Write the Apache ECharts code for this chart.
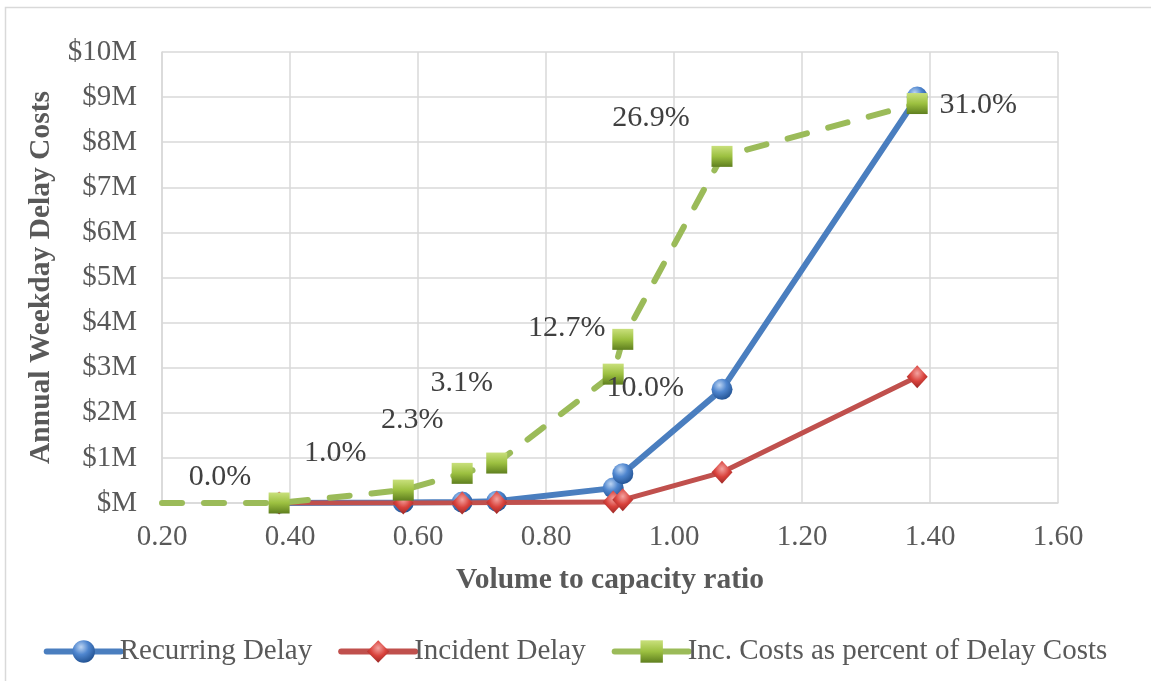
<!DOCTYPE html>
<html>
<head>
<meta charset="utf-8">
<script src="https://cdn.jsdelivr.net/npm/echarts@6/dist/echarts.min.js"></script>
<style>
  html, body { margin: 0; padding: 0; background: #ffffff; }
  #chart { width: 1151px; height: 681px; }
</style>
</head>
<body>
<div id="chart"></div>
<script>
// Volume-to-capacity ratio of each studied segment
const vcRatio = [0.383, 0.577, 0.669, 0.723, 0.905, 0.920, 1.075, 1.380];
// Annual weekday delay costs, $ millions
const recurringDelay = [0.00, 0.01, 0.02, 0.04, 0.33, 0.65, 2.52, 9.00];
const incidentDelay  = [0.00, 0.00, 0.00, 0.01, 0.02, 0.07, 0.68, 2.80];
// Incident costs as percent of total delay costs
const incPercent = [0.0, 1.0, 2.3, 3.1, 10.0, 12.7, 26.9, 31.0];
// The percent line starts at the left edge of the axis
const incLeadIn = { x: 0.20, pct: 0.0 };
// Percent points are plotted on the $M axis: 3.5 % per $1M
const PCT_PER_MILLION = 3.5;
// Label offsets for each percent point (dx, dy in px from the marker)
const pctLabelOffsets = [[-59, -26], [-68, -37], [-50, -53], [-35, -80], [32, 14], [-56, -11], [-71, -38], [61, 2]];

const xTicks = { min: 0.2, max: 1.6, step: 0.2 };
const yTicks = { min: 0, max: 10, step: 1 };

const FONT = '"Liberation Serif", "Times New Roman", serif';
const TEXT = '#595959';
const BLUE = '#4a7ebf';
const RED = '#c0504d';
const GREEN = '#9bbb59';

const blueBall = {
  type: 'radial', x: 0.38, y: 0.3, r: 0.75,
  colorStops: [{ offset: 0, color: '#bcd4f2' }, { offset: 0.45, color: '#4f86cf' }, { offset: 1, color: '#1f4f8f' }]
};
const redGem = {
  type: 'radial', x: 0.5, y: 0.35, r: 0.7,
  colorStops: [{ offset: 0, color: '#f3a3a0' }, { offset: 0.5, color: '#d9423c' }, { offset: 1, color: '#8f2321' }]
};
const greenTile = {
  type: 'linear', x: 0, y: 0, x2: 0, y2: 1,
  colorStops: [{ offset: 0, color: '#c9e07c' }, { offset: 0.5, color: '#9cc040' }, { offset: 1, color: '#5f7f1f' }]
};

const recurringData = vcRatio.map((x, i) => [x, recurringDelay[i]]);
const incidentData = vcRatio.map((x, i) => [x, incidentDelay[i]]);
const incData = [{ value: [incLeadIn.x, incLeadIn.pct / PCT_PER_MILLION], symbol: 'none', label: { show: false } }]
  .concat(vcRatio.map((x, i) => ({
    value: [x, incPercent[i] / PCT_PER_MILLION],
    label: {
      show: true,
      formatter: incPercent[i].toFixed(1) + '%',
      offset: pctLabelOffsets[i]
    }
  })));

const chart = echarts.init(document.getElementById('chart'), null, { renderer: 'canvas' });
chart.setOption({
  animation: false,
  backgroundColor: '#ffffff',
  textStyle: { fontFamily: FONT },
  graphic: [{
    type: 'rect',
    shape: { x: 5.5, y: 7.5, width: 1150, height: 680 },
    style: { fill: 'none', stroke: '#d9d9d9', lineWidth: 1.5 },
    silent: true,
    z: -10
  }],
  grid: { left: 162, right: 93, top: 52, bottom: 178, containLabel: false },
  xAxis: {
    type: 'value',
    min: xTicks.min, max: xTicks.max, interval: xTicks.step,
    name: 'Volume to capacity ratio',
    nameLocation: 'middle', nameGap: 62,
    nameTextStyle: { fontFamily: FONT, fontSize: 29.5, fontWeight: 'bold', color: TEXT },
    axisLine: { show: true, lineStyle: { color: '#d9d9d9', width: 1.5 } },
    axisTick: { show: false },
    axisLabel: { fontFamily: FONT, fontSize: 29, color: TEXT, margin: 20, formatter: v => v.toFixed(2) },
    splitLine: { show: true, lineStyle: { color: '#d9d9d9', width: 1.5 } }
  },
  yAxis: {
    type: 'value',
    min: yTicks.min, max: yTicks.max, interval: yTicks.step,
    name: 'Annual Weekday Delay Costs',
    nameLocation: 'middle', nameGap: 103, nameRotate: 90,
    nameTextStyle: { fontFamily: FONT, fontSize: 29.5, fontWeight: 'bold', color: TEXT },
    axisLine: { show: true, lineStyle: { color: '#d9d9d9', width: 1.5 } },
    axisTick: { show: false },
    axisLabel: { fontFamily: FONT, fontSize: 29, color: TEXT, margin: 25, formatter: v => v === 0 ? '$M' : '$' + v + 'M' },
    splitLine: { show: true, lineStyle: { color: '#d9d9d9', width: 1.5 } }
  },
  legend: {
    bottom: 10, left: 'center',
    itemWidth: 74, itemHeight: 28, itemGap: 26,
    lineStyle: { width: 6, type: 'solid', cap: 'round' },
    textStyle: { fontFamily: FONT, fontSize: 29, color: TEXT, padding: [0, 0, 0, -6] },
    data: ['Recurring Delay', 'Incident Delay', 'Inc. Costs as percent of Delay Costs']
  },
  series: [
    {
      name: 'Recurring Delay', type: 'line', data: recurringData,
      symbol: 'circle', symbolSize: 21, showAllSymbol: true,
      lineStyle: { color: BLUE, width: 6, cap: 'round' },
      itemStyle: { color: blueBall, borderWidth: 0 },
      z: 2
    },
    {
      name: 'Incident Delay', type: 'line', data: incidentData,
      symbol: 'diamond', symbolSize: [21, 23], showAllSymbol: true,
      lineStyle: { color: RED, width: 5, cap: 'round' },
      itemStyle: { color: redGem, borderWidth: 0 },
      z: 3
    },
    {
      name: 'Inc. Costs as percent of Delay Costs', type: 'line', data: incData,
      symbol: 'rect', symbolSize: 21, showAllSymbol: true,
      lineStyle: { color: GREEN, width: 6, type: [20, 22], cap: 'round' },
      itemStyle: { color: greenTile, borderWidth: 0 },
      label: {
        position: 'inside', align: 'center', verticalAlign: 'middle',
        fontFamily: FONT, fontSize: 30, color: '#404040'
      },
      z: 4
    }
  ]
});
</script>
</body>
</html>
